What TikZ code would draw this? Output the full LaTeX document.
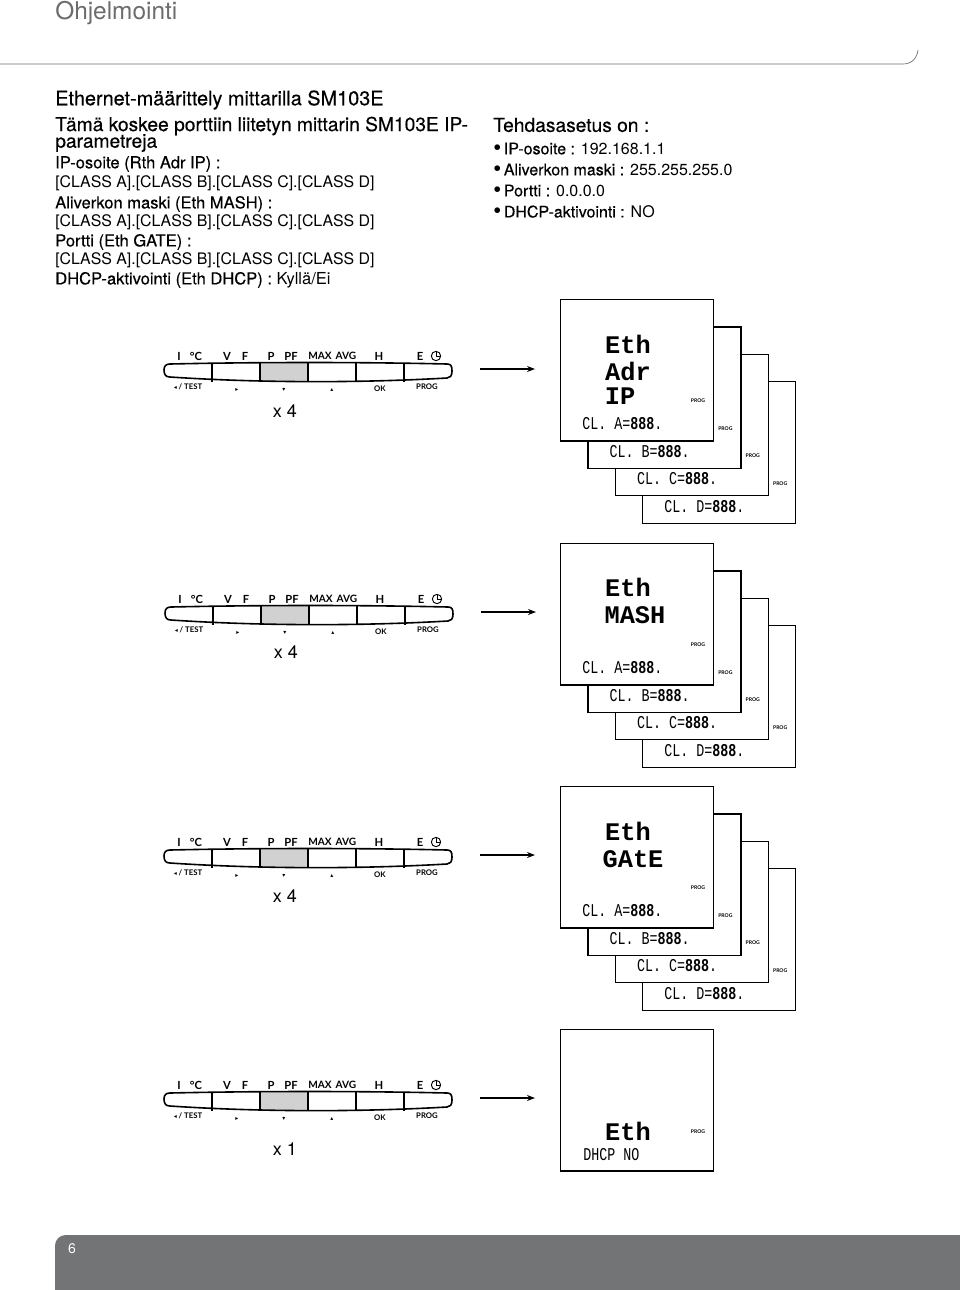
\documentclass[tikz,border=0pt]{standalone}
\usepackage{fontspec}
\usepackage{graphicx}
\setmainfont{TeX Gyre Heros}
\newfontfamily\medfont[FakeBold=0.35]{TeX Gyre Heros}
\newfontfamily\padfont{Lato}
\newfontfamily\lcdfont{Liberation Mono}
\newfontfamily\symfont{DejaVu Sans}
\usetikzlibrary{arrows.meta}
\definecolor{footgray}{HTML}{737476}
\definecolor{headgray}{HTML}{6B6C6E}
\newcommand{\headtext}[2]{{\medfont\fontsize{#1}{15}\selectfont #2}}
\newcommand{\classline}{{\fontsize{11.9}{14}\selectfont [CLASS A].[CLASS B].[CLASS C].[CLASS D]}}
\newcommand{\bulletitem}[2]{{\fontsize{12}{14}\selectfont\raisebox{-0.8pt}{\fontsize{17}{17}\selectfont •}\,{\medfont #1 :} #2}}
\newcommand{\lcdtext}[1]{\scalebox{1}[1.35]{#1}}
\begin{document}
\begin{tikzpicture}[x=0.75pt, y=-0.75pt,
        body/.style = {anchor=west, inner sep=0pt, yshift=-1.5pt, font=\fontsize{12.4}{14}\selectfont},
        padlabel/.style = {inner sep=0pt, font=\padfont\bfseries\fontsize{8.4}{9}\selectfont},
        padsmall/.style = {inner sep=0pt, font=\padfont\bfseries\fontsize{5.8}{7}\selectfont},
        padsym/.style = {inner sep=0pt, font=\symfont\fontsize{4.5}{5}\selectfont},
        screen/.style = {draw, fill=white, line width=0.9pt, minimum width=114.75pt,
            minimum height=106pt, anchor=north west},
        lcdbig/.style = {inner sep=0pt, font=\lcdfont\bfseries\fontsize{19}{20}\selectfont},
        lcdline/.style = {anchor=west, inner sep=0pt, font=\lcdfont\fontsize{10}{12}\selectfont},
        proglabel/.style = {inner sep=0pt, font=\padfont\bfseries\fontsize{3.8}{4}\selectfont}]
    \useasboundingbox (0,0) rectangle (960,1290);
    \node[anchor=base west, inner sep=0pt, text=headgray, font=\fontsize{18.3}{20}\selectfont] (title) at (55,19) {Ohjelmointi};
    \draw[headgray, line width=0.5pt] (0,64) -- (903,64) .. controls (912,64) and (917,58) .. (918,50);
    \foreach \y/\txt in {98/{\headtext{14.9}{Ethernet-määrittely mittarilla SM103E}},
            124/{\headtext{14.4}{Tämä koskee porttiin liitetyn mittarin SM103E IP-}},
            141/{\headtext{14.4}{parametreja}},
            162/{\medfont IP-osoite (Rth Adr IP) :},
            181/{\classline},
            202/{\medfont Aliverkon maski (Eth MASH) :},
            220/{\classline},
            240/{\medfont Portti (Eth GATE) :},
            258/{\classline},
            278/{{\medfont DHCP-aktivointi (Eth DHCP) :} Kyllä/Ei}}
        \node[body] (left\y) at (55,\y) {\txt};
    \foreach \y/\txt in {123/{\headtext{14.4}{Tehdasasetus on :}},
            147/{\bulletitem{IP-osoite}{192.168.1.1}},
            168/{\bulletitem{Aliverkon maski}{255.255.255.0}},
            189/{\bulletitem{Portti}{0.0.0.0}},
            210/{\bulletitem{DHCP-aktivointi}{NO}}}
        \node[body] (right\y) at (493,\y) {\txt};
    \foreach \id/\dx/\dy/\cnt/\cnty in {a/0/0/4/411, b/1/243/4/409, c/0/486/4/410, d/0/729/1/420} {
        \begin{scope}[shift={(\dx,\dy)}]
            \fill[black!18] (261,363) rectangle (307,381);
            \draw[line width=1.2pt, line join=round] (170,364) .. controls (260,362) and (360,362) .. (447,364)
                .. controls (451,364) and (452,366) .. (452,371) .. controls (452,376) and (450,378) .. (447,378)
                .. controls (360,383) and (260,383) .. (170,377) .. controls (166,377) and (164,375) .. (164,370)
                .. controls (164,366) and (166,364) .. (170,364);
            \foreach \x in {212,260,308,356,404}
                \draw[line width=1.2pt] (\x,363) -- (\x,381.5);
            \foreach \x/\lab in {179/I, 196/°C, 227/V, 245/F, 271/P, 291/PF, 379/H, 420/E}
                \node[padlabel] (lab\id\x) at (\x,356) {\lab};
            \foreach \x/\lab in {320/MAX, 346/AVG}
                \node[padlabel, font=\padfont\bfseries\fontsize{7.6}{9}\selectfont] (lab\id\x) at (\x,356) {\lab};
            \node[draw, circle, line width=0.7pt, minimum size=7pt, inner sep=0pt] (clock\id) at (436,356) {};
            \draw[line width=0.6pt] (clock\id.center) -- (clock\id.north) (clock\id.center) -- (clock\id.east);
            \node[padsmall] (test\id) at (188,387) {{\symfont\fontsize{4.5}{5}\selectfont ◂} / TEST};
            \foreach \x/\lab in {237/▸, 284/▾, 332/▴}
                \node[padsym] (sym\id\x) at (\x,390) {\lab};
            \node[padsmall] (ok\id) at (380,389) {OK};
            \node[padsmall] (prog\id) at (427,387) {PROG};
            \node[inner sep=0pt, font=\fontsize{13.5}{15}\selectfont] (count\id) at (285,\cnty) {x \cnt};
            \coordinate (arrstart\id) at (480,369);
            \coordinate (arrend\id) at (535,369);
            \draw[line width=0.8pt, -{Stealth[length=6pt,width=4.5pt]}] (arrstart\id) -- (arrend\id);
        \end{scope}
    }
    \foreach \id/\dy in {a/0, b/244, c/487} {
        \begin{scope}[shift={(0,\dy)}]
            \foreach \n/\ltr in {3/D, 2/C, 1/B, 0/A} {
                \node[screen] (scr\id\n) at ({560+27.4*\n},{299+27.4*\n}) {};
                \node[proglabel] (scrprog\id\n) at ({698+27.4*\n},{401+27.4*\n}) {PROG};
                \node[lcdline] (cl\id\n) at ({582+27.4*\n},{424+27.4*\n}) {\lcdtext{CL. \ltr={\bfseries 888}.}};
            }
        \end{scope}
    }
    \node[lcdbig] (etha) at (628,344) {Eth};
    \node[lcdbig] (adra) at (628,371) {Adr};
    \node[lcdbig] (ipa) at (620,396) {IP};
    \node[lcdbig] (ethb) at (628,587) {Eth};
    \node[lcdbig] (maskb) at (635,615) {MASH};
    \node[lcdbig] (ethc) at (628,831) {Eth};
    \node[lcdbig] (gatec) at (633,859) {GAtE};
    \node[screen] (scrd) at (560,1029) {};
    \node[proglabel] (scrprogd) at (698,1132) {PROG};
    \node[lcdbig] (ethd) at (628,1131) {Eth};
    \node[lcdline] (dhcpd) at (583,1155) {\lcdtext{DHCP NO}};
    \fill[footgray, rounded corners=8pt] (55,1300) -- (55,1235) -- (975,1235) -- (975,1300) -- cycle;
    \node[inner sep=0pt, text=white, font=\fontsize{10.5}{12}\selectfont] (pagenum) at (72,1249) {6};
\end{tikzpicture}
\end{document}
